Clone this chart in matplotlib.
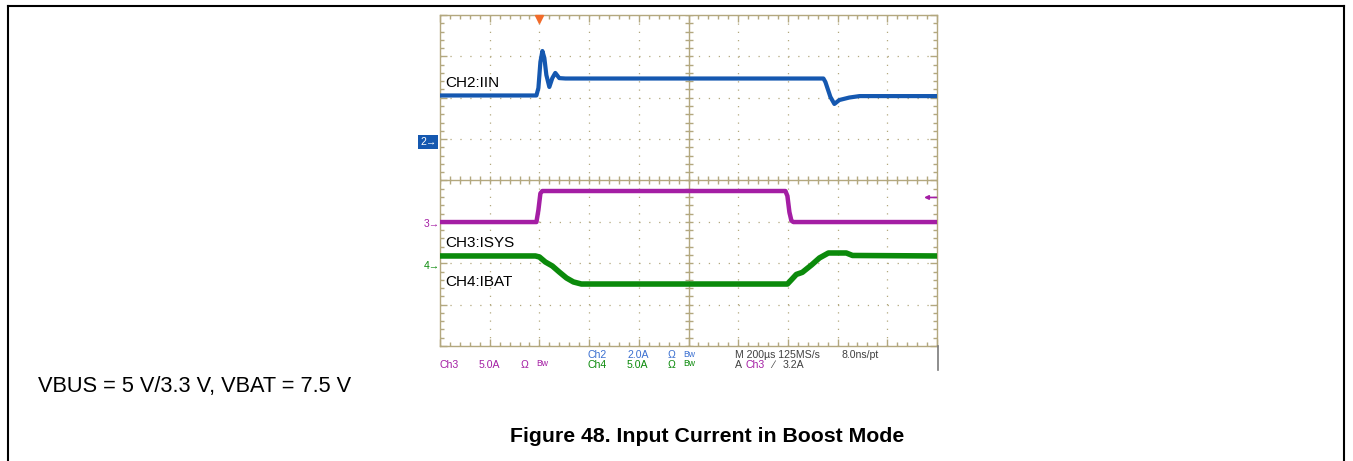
import matplotlib
matplotlib.use("Agg")
from matplotlib import pyplot as plt
from matplotlib.lines import Line2D
from matplotlib.ticker import MultipleLocator
import numpy as np

plt.rcParams['font.family'] = ['Liberation Sans', 'DejaVu Sans']

W, H = 1353, 461

# CH2 - input current (time in us, current in A)
ch2_t = [-400, -12, -4, 4, 12, 20, 28, 40, 52, 64, 80, 105,
         1143, 1151, 1171, 1187, 1207, 1247, 1288, 1600]
ch2_a = [2.25, 2.25, 2.61, 3.87, 4.40, 4.06, 3.24, 2.66, 3.09, 3.34, 3.09, 3.07,
         3.07, 2.90, 2.18, 1.84, 2.03, 2.15, 2.22, 2.22]

# CH3 - system current
ch3_t = [-400, -12, -4, 4, 12, 990, 998, 1006, 1014, 1022, 1600]
ch3_a = [0.23, 0.23, 1.68, 3.70, 3.98, 3.98, 3.38, 1.44, 0.40, 0.23, 0.23]

# CH4 - battery current
ch4_t = [-400, -16, 0, 24, 52, 80, 109, 137, 169,
         998, 1014, 1034, 1058, 1095, 1127, 1163, 1235, 1260, 1600]
ch4_a = [1.18, 1.18, 1.06, 0.45, -0.03, -0.76, -1.48, -1.96, -2.21,
         -2.21, -1.70, -1.05, -0.80, 0.09, 0.94, 1.54, 1.54, 1.24, 1.18]

# scope settings: ground offset (div), A/div
ch2_off, ch2_scale = 0.93, 2.0
ch3_off, ch3_scale = -1.05, 5.0
ch4_off, ch4_scale = -2.06, 5.0
trig_level = 3.2

BLUE = '#1558b0'
MAGENTA = '#a41ea4'
GREEN = '#0b8a0b'
GRID = '#b3a87f'


def fx(px):
    return px / W


def fy(py):
    return 1 - py / H


fig = plt.figure(figsize=(W / 100, H / 100), dpi=100)
ax = fig.add_axes([fx(440), fy(346), fx(937) - fx(440), fy(15) - fy(346)])
ax.set_xlim(-400, 1600)
ax.set_ylim(-4, 4)

# graticule
ax.xaxis.set_major_locator(MultipleLocator(200))
ax.xaxis.set_minor_locator(MultipleLocator(40))
ax.yaxis.set_major_locator(MultipleLocator(1))
ax.yaxis.set_minor_locator(MultipleLocator(0.2))
ax.tick_params(which='both', direction='in', top=True, right=True,
               labelbottom=False, labelleft=False, color=GRID, width=1)
ax.tick_params(which='major', length=5)
ax.tick_params(which='minor', length=3)
ax.xaxis.grid(True, which='major', color=GRID, linestyle=(0, (1, 5.6)), linewidth=0.9)
ax.yaxis.grid(True, which='major', color=GRID, linestyle=(0, (1, 6.95)), linewidth=0.9)
for s in ax.spines.values():
    s.set_color(GRID)
    s.set_linewidth(1)
ax.axvline(600, color=GRID, lw=1, zorder=1)
ax.axhline(0, color=GRID, lw=1, zorder=1)
ax.plot(np.arange(-400, 1601, 40), np.zeros(51), ls='none', marker='|',
        ms=6, mew=1, color=GRID, zorder=1)
ax.plot(np.full(41, 600), np.linspace(-4, 4, 41), ls='none', marker='_',
        ms=6, mew=1, color=GRID, zorder=1)

# traces
ax.plot(ch2_t, ch2_off + np.array(ch2_a) / ch2_scale, color=BLUE, lw=3, zorder=3)
ax.plot(ch3_t, ch3_off + np.array(ch3_a) / ch3_scale, color=MAGENTA, lw=3.2, zorder=3)
ax.plot(ch4_t, ch4_off + np.array(ch4_a) / ch4_scale, color=GREEN, lw=4, zorder=3)

# trigger markers
ax.plot(0, 3.9, marker='v', ms=6, color='#f26b2a', clip_on=False, zorder=4)
ty = ch3_off + trig_level / ch3_scale
ax.annotate('', xy=(1548, ty), xytext=(1598, ty),
            arrowprops=dict(arrowstyle='-|>', color=MAGENTA, lw=1.2,
                            mutation_scale=6, shrinkA=0, shrinkB=0))

# labels inside screen
fig.text(fx(445), fy(82.5), 'CH2:IIN', fontsize=11, va='center')
fig.text(fx(445), fy(243), 'CH3:ISYS', fontsize=11, va='center')
fig.text(fx(445), fy(282), 'CH4:IBAT', fontsize=11, va='center')

# channel ground markers
fig.text(fx(420), fy(142), '2\u2192', color='white', fontsize=7.5, va='center',
         bbox=dict(boxstyle='square,pad=0.15', fc=BLUE, ec='none'))
fig.text(fx(424), fy(224), '3\u2192', color=MAGENTA, fontsize=7.5, va='center')
fig.text(fx(424), fy(266), '4\u2192', color=GREEN, fontsize=7.5, va='center')

# readout
rs = 7.6
bs = 6.2
LB = '#3a6fd0'
GR = '#404040'
fig.text(fx(588), fy(355), 'Ch2', color=LB, fontsize=rs, va='center')
fig.text(fx(627), fy(355), '2.0A', color=LB, fontsize=rs, va='center')
fig.text(fx(668), fy(355), '\u03a9', color=LB, fontsize=rs, va='center')
fig.text(fx(683), fy(354), 'Bw', color=LB, fontsize=bs, va='center')
fig.text(fx(735), fy(355), 'M 200\u00b5s 125MS/s', color=GR, fontsize=rs, va='center')
fig.text(fx(841), fy(355), '8.0ns/pt', color=GR, fontsize=rs, va='center')
fig.text(fx(440), fy(365), 'Ch3', color=MAGENTA, fontsize=rs, va='center')
fig.text(fx(479), fy(365), '5.0A', color=MAGENTA, fontsize=rs, va='center')
fig.text(fx(521), fy(365), '\u03a9', color=MAGENTA, fontsize=rs, va='center')
fig.text(fx(536), fy(364), 'Bw', color=MAGENTA, fontsize=bs, va='center')
fig.text(fx(588), fy(365), 'Ch4', color=GREEN, fontsize=rs, va='center')
fig.text(fx(627), fy(365), '5.0A', color=GREEN, fontsize=rs, va='center')
fig.text(fx(668), fy(365), '\u03a9', color=GREEN, fontsize=rs, va='center')
fig.text(fx(683), fy(364), 'Bw', color=GREEN, fontsize=bs, va='center')
fig.text(fx(735), fy(365), 'A', color=GR, fontsize=rs, va='center')
fig.text(fx(746), fy(365), 'Ch3', color=MAGENTA, fontsize=rs, va='center')
fig.text(fx(772), fy(365), '\u2215', color=GR, fontsize=rs, va='center')
fig.text(fx(783), fy(365), '3.2A', color=GR, fontsize=rs, va='center')
fig.add_artist(Line2D([fx(938), fx(938)], [fy(346), fy(370)], color='#7a7a7a', lw=1.2))

# caption text
fig.text(fx(38), fy(386), 'VBUS = 5 V/3.3 V, VBAT = 7.5 V', fontsize=15.7, va='center')
fig.text(fx(707), fy(436), 'Figure 48. Input Current in Boost Mode', fontsize=15.3,
         fontweight='bold', ha='center', va='center')

# page frame
fig.add_artist(Line2D([fx(8), fx(8)], [fy(6), 0], color='black', lw=1.5))
fig.add_artist(Line2D([fx(1344), fx(1344)], [fy(6), 0], color='black', lw=1.5))
fig.add_artist(Line2D([fx(8), fx(1344)], [fy(6), fy(6)], color='black', lw=1.5))

fig.savefig('out.png', dpi=100)
